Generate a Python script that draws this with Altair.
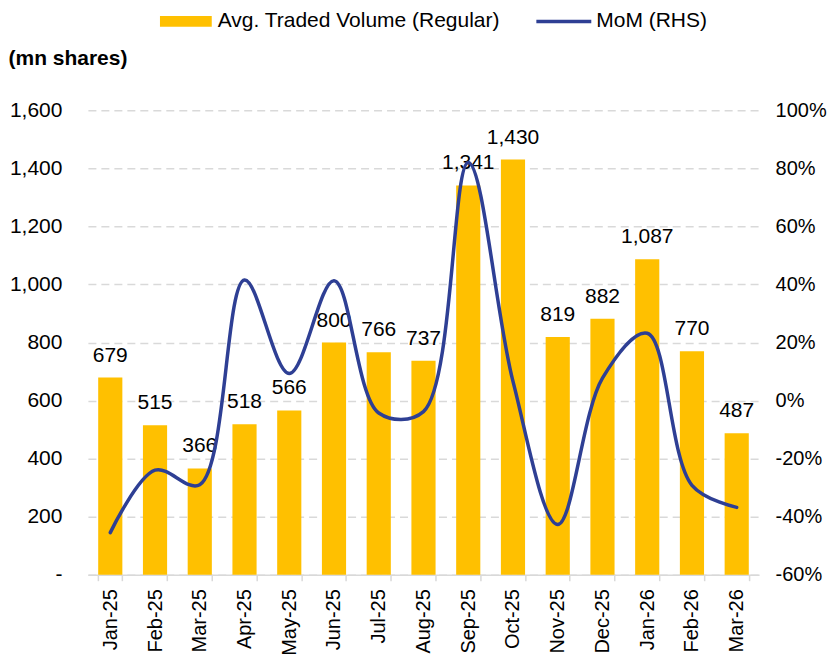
import altair as alt
import pandas as pd

months = ["Jan-25", "Feb-25", "Mar-25", "Apr-25", "May-25", "Jun-25", "Jul-25",
          "Aug-25", "Sep-25", "Oct-25", "Nov-25", "Dec-25", "Jan-26", "Feb-26", "Mar-26"]
volume = [679, 515, 366, 518, 566, 800, 766, 737, 1341, 1430, 819, 882, 1087, 770, 487]
mom = [-0.455, -0.24, -0.29, 0.415, 0.093, 0.413, -0.043, -0.038, 0.82, 0.066,
       -0.427, 0.077, 0.232, -0.292, -0.368]
left_ticks = [0, 200, 400, 600, 800, 1000, 1200, 1400, 1600]
right_ticks = [-0.6, -0.4, -0.2, 0.0, 0.2, 0.4, 0.6, 0.8, 1.0]

df = pd.DataFrame({
    "month": months,
    "volume": volume,
    "mom": mom,
    "vol_series": "Avg. Traded Volume (Regular)",
    "mom_series": "MoM (RHS)",
})

FONT = "Liberation Sans"
BAR = "#FFC000"
LINE = "#2E3F94"
GRID = "#d9d9d9"

x_enc = alt.X(
    "month:N", sort=months,
    scale=alt.Scale(paddingInner=0.46, paddingOuter=0.23),
    axis=alt.Axis(title=None, labelAngle=-90, labelFontSize=20, labelPadding=8,
                  domainColor=GRID, domainWidth=1.5, tickColor=GRID, tickWidth=1.5,
                  tickSize=6, tickBand="extent", grid=False),
)

vol_scale = alt.Scale(domain=[0, 1600])

bars = alt.Chart(df).mark_bar().encode(
    x=x_enc,
    y=alt.Y("volume:Q", scale=vol_scale,
            axis=alt.Axis(values=left_ticks,
                          labelExpr="datum.value == 0 ? '-' : format(datum.value, ',')",
                          title="(mn shares)", titleAngle=0, titleAlign="left",
                          titleBaseline="middle", titleX=-80, titleY=-52,
                          titleFontSize=21, titleFontWeight="bold",
                          labelFontSize=21, labelPadding=26,
                          grid=True, gridDash=[8, 5], gridColor=GRID, gridWidth=1.5,
                          domain=False, ticks=False)),
    color=alt.Color("vol_series:N", scale=alt.Scale(range=[BAR]),
                    legend=alt.Legend(title=None, orient="none", legendX=72, legendY=-102,
                                      symbolType="M-1,-0.21H1V0.21H-1Z", symbolSize=2704,
                                      symbolStrokeWidth=0, symbolOpacity=1, clipHeight=26,
                                      labelFontSize=21, labelOffset=6, labelLimit=0)),
)

labels = alt.Chart(df).mark_text(fontSize=21, font=FONT, color="#000",
                                 baseline="alphabetic", dy=-16).encode(
    x=x_enc,
    y=alt.Y("volume:Q", scale=vol_scale),
    text=alt.Text("volume:Q", format=","),
)

line = alt.Chart(df).mark_line(interpolate="catmull-rom", strokeWidth=3.5,
                               strokeCap="round").encode(
    x=x_enc,
    y=alt.Y("mom:Q", scale=alt.Scale(domain=[-0.6, 1.0]),
            axis=alt.Axis(orient="right", values=right_ticks,
                          labelExpr="round(datum.value * 100) + '%'",
                          title=None, grid=False, domain=False, ticks=False,
                          labelFontSize=20, labelPadding=16)),
    stroke=alt.Stroke("mom_series:N", scale=alt.Scale(range=[LINE]),
                      legend=alt.Legend(title=None, orient="none", legendX=447, legendY=-102,
                                        symbolType="stroke", symbolSize=3025,
                                        symbolStrokeWidth=3.5, clipHeight=26,
                                        labelFontSize=21, labelOffset=3, labelLimit=0)),
)

chart = alt.layer(alt.layer(bars, labels), line).resolve_scale(
    y="independent"
).properties(
    width=672, height=465,
    padding={"left": 0, "top": 0, "right": 0, "bottom": 0},
).configure_view(stroke=None).configure_axis(
    labelFont=FONT, titleFont=FONT, labelColor="#000", titleColor="#000"
).configure_legend(labelFont=FONT, labelColor="#000", padding=0)

chart.save("out.html", embed_options={"renderer": "svg", "actions": False})
